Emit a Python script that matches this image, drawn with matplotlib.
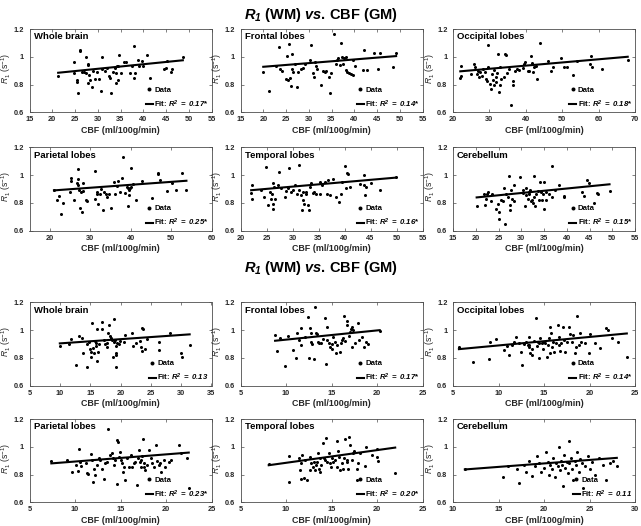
import numpy as np
import matplotlib
matplotlib.use("Agg")
import matplotlib.pyplot as plt

plt.rcParams['font.family'] = ['Liberation Sans', 'DejaVu Sans']
plt.rcParams['mathtext.fontset'] = 'custom'
plt.rcParams['mathtext.rm'] = 'Liberation Sans'
plt.rcParams['mathtext.it'] = 'Liberation Sans:italic'
plt.rcParams['mathtext.bf'] = 'Liberation Sans:bold'
plt.rcParams['mathtext.bfit'] = 'Liberation Sans:italic:bold'
plt.rcParams['mathtext.sf'] = 'Liberation Sans'

# ---------------- data ----------------
region_names = ["Whole brain", "Frontal lobes", "Occipital lobes",
                "Parietal lobes", "Temporal lobes", "Cerebellum"]

# top section: CBF (ml/100g/min), R1 (s^-1)
wb_top = np.array([
    [21.3, 0.86], [24.8, 0.96], [24.7, 0.885], [25.4, 0.835], [25.5, 0.815], [25.6, 0.74],
    [26.0, 1.04], [26.2, 1.05], [26.5, 0.89], [27.0, 0.89], [27.5, 0.88], [27.8, 0.94],
    [27.5, 1.0], [27.8, 0.95], [28.0, 0.87], [27.8, 0.81], [28.3, 0.83], [28.7, 0.78],
    [29.0, 0.90], [29.5, 0.84], [29.8, 0.89], [30.2, 0.84], [30.8, 0.75], [31.0, 1.0],
    [31.5, 0.90], [32.0, 0.92], [32.5, 0.86], [32.8, 0.85], [33.0, 0.74], [33.3, 0.89],
    [33.7, 0.92], [34.0, 0.88], [34.0, 0.81], [34.5, 0.83], [34.7, 1.01], [34.3, 0.93],
    [35.2, 0.88], [35.8, 0.96], [36.3, 0.96], [37.0, 0.88], [37.5, 0.93], [38.0, 1.08],
    [38.0, 0.85], [38.2, 0.88], [38.8, 0.98], [39.0, 0.93], [39.8, 0.97], [40.0, 0.93],
    [40.8, 1.01], [41.5, 0.85], [44.5, 0.91], [45.0, 0.92], [45.3, 0.97], [46.0, 0.89],
    [46.3, 0.91], [48.7, 1.0], [31.0, 0.91], [34.5, 0.93]])
fr_top = np.array([
    [20.0, 0.887], [21.3, 0.755], [22.7, 0.93], [23.5, 1.067], [23.7, 0.915], [24.2, 0.90],
    [25.0, 0.84], [25.3, 1.005], [25.6, 1.09], [25.5, 0.83], [25.9, 0.85], [26.1, 0.79],
    [26.4, 1.02], [26.4, 0.91], [26.6, 0.89], [27.0, 0.95], [27.4, 0.78], [27.6, 0.89],
    [28.3, 0.915], [28.8, 0.92], [29.2, 0.95], [30.2, 0.975], [30.4, 1.085], [30.9, 0.885],
    [31.1, 0.855], [31.3, 0.965], [31.5, 0.935], [31.8, 0.91], [32.8, 0.80], [33.1, 0.90],
    [33.5, 0.89], [33.9, 0.90], [34.4, 0.855], [34.6, 0.74], [34.9, 0.885], [35.5, 1.165],
    [35.9, 0.95], [36.2, 0.975], [36.4, 0.99], [36.8, 0.94], [37.1, 1.097], [37.3, 1.00],
    [37.5, 0.95], [37.8, 0.99], [38.1, 0.905], [38.2, 1.00], [38.5, 0.89], [38.9, 0.88],
    [39.3, 0.875], [39.7, 0.87], [39.8, 0.975], [40.1, 0.93], [42.0, 0.905], [42.2, 1.05],
    [42.7, 0.905], [44.4, 1.025], [45.7, 1.025], [45.2, 0.915], [48.6, 0.925], [49.2, 1.03]])
oc_top = np.array([
    [22.1, 0.934], [22.0, 0.85], [22.3, 0.864], [25.0, 0.876], [25.9, 0.946], [26.1, 0.923],
    [26.5, 0.876], [27.0, 0.90], [27.2, 0.852], [27.5, 0.888], [27.9, 0.864], [28.3, 0.911],
    [28.8, 0.888], [29.0, 0.84], [29.3, 0.829], [29.5, 1.082], [29.7, 0.927], [30.1, 0.806],
    [30.4, 0.77], [30.6, 0.876], [30.9, 0.834], [31.2, 0.794], [31.4, 0.904], [31.7, 0.817],
    [31.9, 0.852], [32.1, 0.88], [32.4, 1.021], [32.6, 0.747], [32.8, 0.794], [33.0, 0.923],
    [33.3, 0.84], [34.0, 0.852], [34.2, 1.023], [34.6, 1.016], [34.9, 0.88], [35.3, 0.911],
    [35.8, 0.653], [36.4, 0.824], [36.6, 0.794], [37.1, 0.895], [37.6, 0.911], [38.0, 0.904],
    [39.1, 0.918], [39.6, 0.951], [39.8, 0.965], [40.5, 0.899], [40.9, 0.895], [41.3, 1.005],
    [41.6, 0.953], [42.1, 0.888], [42.3, 0.923], [42.7, 0.934], [43.0, 0.84], [43.9, 1.098],
    [46.1, 0.97], [46.8, 0.899], [47.5, 0.923], [49.7, 0.993], [50.6, 0.927], [51.4, 0.923],
    [52.9, 0.869], [54.1, 0.97], [57.7, 0.951], [57.8, 1.005], [58.1, 0.927], [61.0, 0.911],
    [68.0, 0.974]])
pa_top = np.array([
    [21.05, 0.896], [21.9, 0.82], [22.4, 0.848], [22.8, 0.718], [23.2, 0.80], [24.9, 0.88],
    [25.3, 0.98], [25.3, 0.96], [26.1, 0.82], [26.7, 0.94], [27.0, 1.043], [27.0, 0.969],
    [27.1, 0.928], [27.3, 0.89], [27.4, 0.766], [27.7, 0.875], [27.9, 0.735], [28.2, 0.945],
    [28.3, 0.884], [28.9, 0.82], [29.3, 0.815], [31.3, 1.03], [31.3, 0.83], [31.6, 0.863],
    [31.7, 0.88], [31.9, 0.795], [32.5, 0.867], [32.7, 0.90], [33.2, 0.747], [33.4, 0.875],
    [33.8, 0.863], [34.2, 0.843], [34.7, 0.863], [35.1, 0.76], [35.8, 0.952], [36.2, 0.867],
    [36.6, 0.923], [37.0, 0.96], [37.4, 0.88], [37.8, 0.98], [38.1, 1.133], [38.6, 0.872],
    [39.0, 0.916], [39.3, 0.904], [39.4, 0.776], [39.5, 0.855], [39.7, 0.89], [39.8, 0.908],
    [40.0, 0.916], [40.2, 1.048], [40.6, 0.935], [41.3, 0.82], [42.9, 0.954], [45.3, 0.838],
    [46.7, 1.012], [46.8, 1.005], [47.3, 0.964], [48.9, 0.887], [50.2, 0.94], [51.3, 0.896],
    [52.6, 1.012], [53.8, 0.896]])
te_top = np.array([
    [22.05, 0.872], [22.2, 0.93], [22.2, 0.831], [24.0, 0.89], [24.6, 0.843], [24.9, 1.06],
    [25.3, 0.783], [25.6, 0.88], [25.8, 0.831], [26.0, 0.867], [26.2, 0.754], [26.2, 0.795],
    [26.3, 0.94], [26.5, 0.916], [26.7, 0.831], [27.2, 0.928], [27.4, 1.02], [27.8, 0.904],
    [28.5, 0.843], [28.8, 0.887], [29.1, 0.904], [29.4, 1.048], [29.7, 0.88], [30.1, 0.896],
    [30.4, 0.928], [30.8, 0.867], [31.2, 1.072], [31.3, 0.892], [31.7, 0.855], [31.9, 0.747],
    [32.0, 0.82], [32.1, 0.88], [32.3, 0.795], [32.5, 0.88], [32.6, 0.867], [32.9, 0.783],
    [33.1, 0.747], [33.3, 0.916], [33.6, 0.94], [33.9, 0.872], [34.2, 0.88], [34.6, 0.867],
    [35.2, 0.952], [35.3, 0.867], [35.7, 0.928], [36.2, 0.952], [36.6, 0.867], [36.8, 0.964],
    [37.2, 0.855], [37.8, 0.969], [38.3, 0.843], [39.0, 0.807], [39.4, 0.867], [39.6, 0.952],
    [40.0, 1.065], [40.2, 0.904], [40.4, 1.012], [40.6, 1.007], [41.0, 0.916], [42.9, 0.935],
    [43.7, 0.998], [43.8, 0.928], [43.9, 0.855], [44.2, 0.916], [45.1, 0.945], [46.9, 0.896],
    [49.9, 0.983]])
ce_top = np.array([
    [20.2, 0.778], [21.8, 0.867], [22.05, 0.783], [22.3, 0.831], [22.5, 0.867], [22.8, 0.88],
    [23.3, 0.812], [23.6, 0.863], [24.5, 0.759], [24.8, 0.795], [25.2, 0.735], [25.2, 0.682],
    [25.5, 0.824], [25.9, 0.812], [26.2, 0.908], [26.5, 0.651], [26.6, 0.867], [27.0, 0.843],
    [27.4, 0.995], [27.5, 0.783], [27.6, 0.747], [27.8, 0.896], [27.9, 0.831], [28.3, 0.928],
    [28.5, 0.812], [29.8, 0.988], [30.3, 0.872], [30.4, 0.892], [30.9, 0.778], [31.0, 0.904],
    [31.1, 0.855], [31.4, 0.831], [31.6, 0.875], [31.7, 0.867], [31.9, 0.892], [32.1, 0.812],
    [32.3, 0.824], [32.5, 0.80], [32.7, 0.84], [32.8, 0.995], [33.0, 0.776], [33.3, 0.867],
    [33.6, 0.884], [33.9, 0.824], [34.05, 0.952], [34.3, 0.88], [34.6, 0.824], [34.8, 0.867],
    [35.0, 0.952], [35.1, 0.759], [35.4, 0.824], [35.5, 0.88], [36.1, 0.867], [36.7, 1.067],
    [36.8, 0.843], [37.5, 0.896], [38.3, 0.928], [39.4, 0.848], [39.5, 0.839], [43.4, 0.88],
    [43.7, 0.848], [44.5, 0.964], [44.8, 0.94], [45.9, 0.802], [46.6, 0.872], [46.8, 0.863],
    [49.4, 0.887]])

# bottom section
wb_bot = np.array([
    [10.0, 0.887], [11.5, 0.90], [11.9, 0.935], [12.7, 0.748], [13.2, 0.959], [13.7, 0.945],
    [13.8, 0.832], [14.4, 0.90], [14.5, 0.736], [14.8, 0.916], [15.0, 0.861], [15.1, 0.844],
    [15.2, 0.808], [15.3, 1.048], [15.4, 0.868], [15.6, 0.832], [15.8, 0.923], [15.9, 0.904],
    [16.0, 0.885], [16.1, 0.779], [16.2, 1.007], [16.3, 0.844], [16.5, 0.90], [16.9, 1.055],
    [17.0, 1.005], [17.3, 0.928], [17.5, 0.897], [17.7, 0.88], [17.8, 0.904], [17.9, 0.976],
    [18.1, 1.036], [18.2, 0.957], [18.5, 0.945], [18.6, 0.928], [18.8, 0.808], [18.9, 0.916],
    [19.0, 1.077], [19.1, 0.928], [19.2, 0.837], [19.2, 0.82], [19.3, 0.731], [19.3, 0.885],
    [19.5, 0.909], [19.7, 0.897], [19.9, 0.923], [20.5, 0.916], [20.7, 0.964], [21.9, 0.981],
    [22.1, 0.885], [22.5, 0.909], [23.2, 0.923], [23.3, 0.875], [23.5, 0.851], [23.6, 1.012],
    [23.7, 1.005], [23.96, 0.861], [24.3, 0.933], [26.4, 0.911], [26.4, 0.856], [28.2, 0.976],
    [29.9, 0.837], [30.2, 0.808], [31.4, 0.892]])
fr_bot = np.array([
    [8.8, 0.964], [9.0, 0.851], [9.3, 0.945], [9.85, 0.741], [10.2, 0.959], [10.8, 0.856],
    [11.1, 0.80], [11.2, 0.976], [11.4, 0.928], [11.6, 0.892], [11.7, 1.012], [12.1, 0.947],
    [12.4, 1.096], [12.5, 0.796], [12.6, 1.012], [12.7, 0.976], [12.8, 0.911], [12.9, 0.90],
    [13.1, 0.789], [13.2, 1.168], [13.3, 0.976], [13.4, 0.971], [13.5, 0.916], [13.6, 0.904],
    [13.9, 0.904], [14.1, 0.935], [14.3, 1.089], [14.4, 0.755], [14.5, 1.024], [14.5, 0.928],
    [14.7, 0.904], [14.8, 0.88], [15.0, 0.897], [15.1, 0.861], [15.2, 0.947], [15.4, 0.911],
    [15.5, 0.837], [15.6, 0.892], [15.9, 0.844], [16.0, 0.904], [16.1, 0.928], [16.3, 0.94],
    [16.4, 1.101], [16.5, 0.923], [16.7, 1.065], [16.7, 1.036], [16.9, 0.957], [17.0, 0.988],
    [17.1, 1.005], [17.2, 0.88], [17.3, 1.024], [17.4, 1.0], [17.6, 0.904], [17.9, 1.048],
    [18.0, 0.928], [18.3, 0.952], [18.6, 0.875], [18.8, 0.916], [19.0, 0.90], [20.3, 0.995]])
oc_bot = np.array([
    [5.65, 0.875], [7.2, 0.767], [9.0, 0.789], [9.1, 0.911], [9.7, 0.935], [10.6, 0.856],
    [10.9, 0.887], [11.2, 0.82], [11.5, 0.892], [11.7, 0.911], [11.9, 0.952], [12.3, 0.904],
    [12.5, 0.844], [12.6, 0.748], [12.8, 0.90], [13.0, 0.916], [13.2, 0.892], [13.3, 0.892],
    [13.4, 0.952], [13.4, 0.875], [13.5, 0.832], [13.7, 0.861], [13.7, 0.82], [13.9, 0.923],
    [14.1, 1.089], [14.2, 0.885], [14.3, 0.916], [14.5, 0.796], [14.5, 0.904], [14.6, 0.94],
    [14.75, 0.904], [14.9, 0.861], [15.0, 0.916], [15.1, 0.904], [15.3, 0.808], [15.4, 0.892],
    [15.5, 0.94], [15.65, 0.832], [15.7, 1.024], [15.8, 0.976], [15.9, 0.880], [16.0, 0.916],
    [16.1, 0.844], [16.3, 0.909], [16.5, 1.036], [16.6, 0.892], [16.6, 0.952], [16.8, 0.849],
    [16.9, 0.904], [17.1, 1.024], [17.2, 0.928], [17.3, 0.844], [17.5, 0.916], [17.7, 1.024],
    [17.9, 0.971], [18.1, 0.916], [18.2, 0.964], [18.4, 0.832], [18.5, 0.875], [18.6, 1.101],
    [18.8, 0.892], [19.0, 0.976], [19.1, 0.916], [19.5, 0.904], [19.9, 0.832], [20.0, 0.971],
    [20.6, 0.904], [21.2, 0.868], [21.8, 1.012], [22.0, 1.0], [22.5, 0.94], [23.1, 0.916],
    [24.1, 0.808]])
pa_bot = np.array([
    [7.4, 0.896], [9.1, 0.908], [9.7, 0.819], [10.1, 0.867], [10.3, 0.824], [10.4, 0.981],
    [10.6, 0.887], [10.7, 0.86], [11.2, 0.884], [11.3, 0.812], [11.4, 0.802], [11.8, 0.947],
    [11.9, 0.908], [12.0, 0.747], [12.1, 0.843], [12.25, 0.795], [12.4, 0.867], [12.6, 0.916],
    [12.8, 0.904], [12.98, 0.843], [13.2, 0.771], [13.35, 0.88], [13.5, 0.892], [13.6, 1.128],
    [13.9, 0.94], [14.1, 0.957], [14.2, 0.916], [14.3, 0.867], [14.45, 0.904], [14.6, 0.735],
    [14.6, 1.048], [14.7, 1.036], [14.8, 0.928], [14.9, 0.964], [15.0, 0.908], [15.2, 0.884],
    [15.3, 0.819], [15.4, 0.855], [15.5, 0.759], [15.7, 0.916], [15.9, 0.855], [16.1, 0.94],
    [16.3, 0.855], [16.5, 0.88], [16.6, 0.892], [16.8, 0.723], [16.9, 0.916], [17.0, 0.976],
    [17.1, 0.892], [17.2, 0.855], [17.3, 0.908], [17.4, 0.933], [17.5, 1.053], [17.6, 0.884],
    [17.6, 0.855], [17.7, 0.831], [17.9, 0.867], [18.1, 0.976], [18.3, 0.916], [18.5, 0.88],
    [18.7, 0.855], [18.85, 1.012], [19.0, 0.896], [19.2, 0.867], [19.3, 0.88], [19.4, 0.819],
    [19.8, 0.908], [19.9, 0.855], [20.3, 0.892], [20.5, 0.904], [21.4, 1.012], [21.6, 0.957],
    [22.3, 0.916], [22.5, 0.70]])
te_bot = np.array([
    [8.1, 0.875], [10.3, 0.933], [10.3, 0.747], [11.4, 0.916], [11.5, 0.836], [11.6, 0.771],
    [11.6, 0.88], [11.8, 0.94], [12.0, 0.778], [12.1, 0.904], [12.3, 0.759], [12.6, 0.836],
    [12.65, 0.928], [12.8, 0.88], [13.0, 0.855], [13.1, 0.892], [13.2, 0.831], [13.3, 0.867],
    [13.4, 0.892], [13.5, 0.952], [13.6, 0.843], [13.7, 0.916], [13.7, 0.819], [13.9, 0.867],
    [14.1, 1.024], [14.2, 0.916], [14.3, 0.904], [14.4, 1.06], [14.5, 0.892], [14.7, 0.952],
    [14.8, 0.88], [14.9, 0.855], [15.1, 0.916], [15.2, 0.892], [15.4, 0.908], [15.6, 1.043],
    [15.6, 0.855], [15.7, 0.971], [15.8, 0.923], [15.9, 0.831], [16.1, 0.88], [16.3, 0.843],
    [16.4, 0.916], [16.5, 1.053], [16.7, 0.904], [16.7, 0.892], [16.8, 0.843], [16.95, 1.067],
    [17.0, 1.012], [17.2, 0.908], [17.4, 0.952], [17.5, 0.971], [17.75, 0.759], [17.8, 0.843],
    [17.9, 0.88], [18.1, 0.952], [18.7, 0.86], [18.8, 1.0], [19.4, 0.94], [20.0, 0.981],
    [20.0, 0.923], [20.1, 0.899], [22.0, 0.812]])
ce_bot = np.array([
    [11.3, 0.84], [15.5, 0.78], [16.0, 0.86], [17.0, 0.84], [17.3, 0.74], [17.8, 0.87],
    [18.0, 0.82], [18.3, 0.90], [18.7, 0.79], [19.0, 0.86], [19.2, 0.93], [19.5, 0.88],
    [19.7, 0.82], [20.0, 0.85], [20.2, 0.96], [20.4, 0.89], [20.5, 0.80], [20.7, 0.87],
    [20.9, 0.84], [21.0, 0.92], [21.2, 0.78], [21.3, 0.88], [21.5, 0.86], [21.6, 1.00],
    [21.8, 0.83], [21.9, 0.90], [22.0, 0.87], [22.1, 0.72], [22.2, 0.94], [22.3, 0.85],
    [22.5, 0.89], [22.6, 0.81], [22.7, 1.04], [22.8, 0.88], [23.0, 0.92], [23.1, 0.84],
    [23.2, 0.76], [23.4, 0.90], [23.5, 0.87], [23.6, 0.96], [23.8, 0.82], [24.0, 0.91],
    [24.2, 0.88], [24.3, 0.70], [24.5, 0.86], [24.8, 0.93], [25.0, 0.84], [25.3, 0.89],
    [25.6, 0.80], [26.0, 0.92], [26.5, 0.87], [26.8, 0.76], [27.2, 0.88], [27.6, 0.90],
    [28.0, 0.86]])

top_data = [wb_top, fr_top, oc_top, pa_top, te_top, ce_top]
bot_data = [wb_bot, fr_bot, oc_bot, pa_bot, te_bot, ce_bot]

# linear fits (slope, intercept)
top_slope = [0.00328, 0.00264, 0.00228, 0.00212, 0.00326, 0.00324]
top_icpt = [0.815, 0.875, 0.845, 0.845, 0.819, 0.7735]
bot_slope = [0.00304, 0.00664, 0.00612, 0.00516, 0.00914, 0.0050]
bot_icpt = [0.8736, 0.8646, 0.828, 0.842, 0.793, 0.780]

top_r2 = ["0.17*", "0.14*", "0.18*", "0.25*", "0.16*", "0.15*"]
bot_r2 = ["0.13", "0.17*", "0.14*", "0.23*", "0.20*", "0.11"]

top_xlim = [(15, 55), (15, 55), (20, 70), (15, 60), (20, 55), (15, 55)]
top_xtick = [np.arange(15, 56, 5), np.arange(15, 56, 5), np.arange(20, 71, 10),
             np.arange(20, 61, 10), np.arange(20, 56, 5), np.arange(15, 56, 5)]
bot_xlim = [(5, 35), (5, 25), (5, 25), (5, 25), (5, 25), (10, 30)]
bot_xtick = [np.arange(5, 36, 5), np.arange(5, 26, 5), np.arange(5, 26, 5),
             np.arange(5, 26, 5), np.arange(5, 26, 5), np.arange(10, 31, 5)]

yticks = [0.6, 0.8, 1.0, 1.2]
ytick_labels = ["0.6", "0.8", "1", "1.2"]

# ---------------- figure ----------------
W, H = 641, 526
fig = plt.figure(figsize=(W / 100, H / 100), dpi=100)

col_left = [29.5, 240.5, 453]
row_top = [29, 147.3, 302.3, 419]
ax_w, ax_h = 182, 83.3

txt_col = '#262626'
spine_col = '#4d4d4d'


def make_panel(px_left, px_top, data, slope, icpt, r2, xlim, xticks, name):
    ax = fig.add_axes([px_left / W, 1 - (px_top + ax_h) / H, ax_w / W, ax_h / H])
    x = data[:, 0]
    y = data[:, 1]
    ax.plot(x, y, 'o', color='black', ms=2.2, mew=0, label='Data')
    xf = np.array([x.min(), x.max()])
    ax.plot(xf, slope * xf + icpt, '-', color='black', lw=1.5,
            label=r'Fit: $\mathbfit{R}^{\mathbfit{2}}$ $\mathbfit{=\ ' + r2.rstrip('*') + '}$'
            + ('*' if r2.endswith('*') else ''))
    ax.set_xlim(*xlim)
    ax.set_ylim(0.6, 1.2)
    ax.set_xticks(xticks)
    ax.set_xticklabels([str(v) for v in xticks])
    ax.set_yticks(yticks)
    ax.set_yticklabels(ytick_labels)
    ax.tick_params(direction='in', length=2.5, width=0.5, top=True, right=True,
                   labelsize=5.3, colors=spine_col, labelcolor=txt_col)
    ax.tick_params(axis='y', pad=4.0)
    ax.tick_params(axis='x', pad=3.0)
    for lab in ax.get_xticklabels() + ax.get_yticklabels():
        lab.set_fontweight('bold')
    for sp in ax.spines.values():
        sp.set_color(spine_col)
        sp.set_linewidth(0.6)
    ax.set_xlabel('CBF (ml/100g/min)', fontsize=6.4, fontweight='bold',
                  color=txt_col, labelpad=1.5)
    ax.set_ylabel(r'$R_1$ (s$^{\mathregular{-1}}$)', fontsize=6.2, color=txt_col)
    ax.yaxis.set_label_coords(-16.2 / ax_w, 0.53)
    ax.text(0.022, 0.905, name, transform=ax.transAxes, fontsize=6.8,
            fontweight='bold', va='center', ha='left', color='black')
    ax.legend(loc='lower right', frameon=False,
              prop={'weight': 'bold', 'size': 5.6},
              handlelength=0.9, handletextpad=0.2, labelspacing=0.55,
              borderaxespad=0.15, borderpad=0.2, markerscale=1.3)
    return ax


for i in range(6):
    r, c = divmod(i, 3)
    make_panel(col_left[c], row_top[r], top_data[i], top_slope[i], top_icpt[i],
               top_r2[i], top_xlim[i], top_xtick[i], region_names[i])
    make_panel(col_left[c], row_top[r + 2], bot_data[i], bot_slope[i], bot_icpt[i],
               bot_r2[i], bot_xlim[i], bot_xtick[i], region_names[i])

title = r'$\mathbfit{R_1}$ (WM) $\mathbfit{vs}$. CBF (GM)'
fig.text(0.5, 1 - 15.5 / H, title, ha='center', va='center', fontsize=10.5,
         fontweight='bold', color='black')
fig.text(0.5, 1 - 268 / H, title, ha='center', va='center', fontsize=10.5,
         fontweight='bold', color='black')

fig.savefig('out.png', dpi=100)
